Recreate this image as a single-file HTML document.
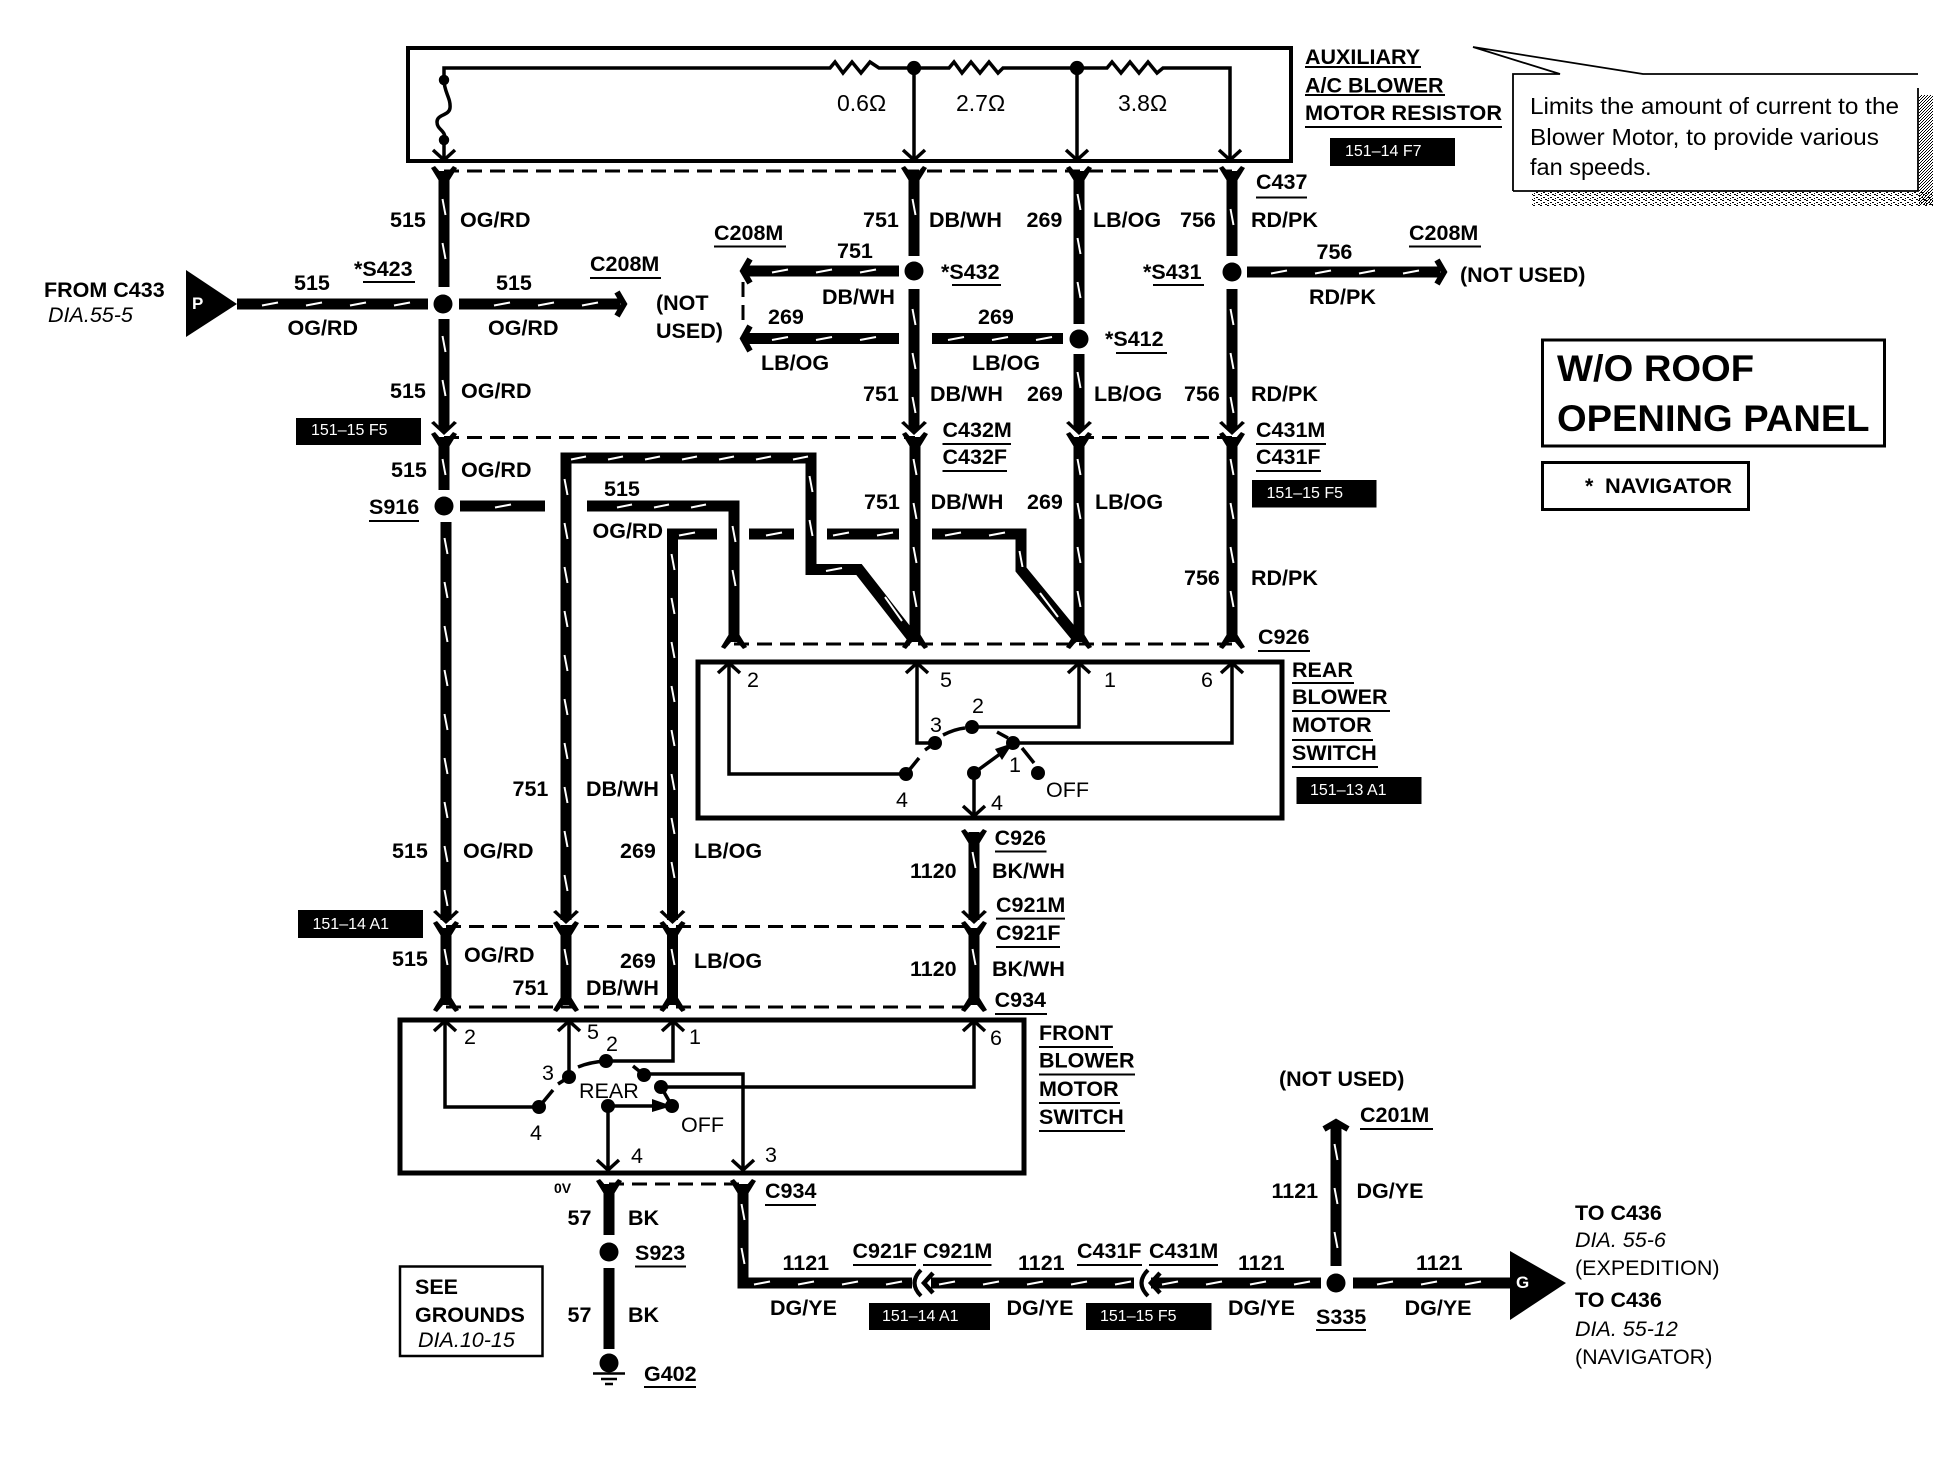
<!DOCTYPE html>
<html><head><meta charset="utf-8"><title>Auxiliary blower wiring diagram</title>
<style>
html,body{margin:0;padding:0;background:#fff}
svg{display:block}
text{font-family:"Liberation Sans",sans-serif;font-size:21.5px;font-weight:bold;fill:#000}
.r{font-weight:normal}
.i{font-weight:normal;font-style:italic}
.w{fill:#fff;font-weight:normal;font-size:16px}
.n{font-weight:normal;font-size:23px}
.t{stroke:#000;fill:none;stroke-width:3.5}
.wire{stroke:#000;fill:none;stroke-width:11;stroke-linejoin:miter}
.dash{stroke:#000;fill:none;stroke-width:3;stroke-dasharray:15 8}
.ar{stroke:#000;fill:none;stroke-width:3.5}
.cap{stroke:#000;fill:none;stroke-width:6}
</style></head><body>
<svg xmlns="http://www.w3.org/2000/svg" width="1958" height="1472" viewBox="0 0 1958 1472">
<defs>
<pattern id="v" patternUnits="userSpaceOnUse" width="12" height="44"><path d="M4.5 14L7.5 30" stroke="#fff" stroke-width="2"/></pattern>
<pattern id="h" patternUnits="userSpaceOnUse" width="44" height="12"><path d="M14 7.5L30 4.5" stroke="#fff" stroke-width="2"/></pattern>
<pattern id="h2" patternUnits="userSpaceOnUse" width="37" height="12"><path d="M11 7.5L26 4.5" stroke="#fff" stroke-width="2"/></pattern>
<pattern id="sh" patternUnits="userSpaceOnUse" width="3" height="3"><rect width="1" height="1"/><rect x="2" y="1" width="1" height="1"/><rect x="1" y="2" width="1" height="1"/></pattern>
<pattern id="sb" patternUnits="userSpaceOnUse" width="7" height="5"><rect width="2" height="1"/><rect x="3" y="2" width="2" height="1"/><rect x="5" y="4" width="2" height="1"/><rect x="1" y="3" width="1" height="1"/></pattern>
<path id="cup" d="M-13-5L-9-7L-3 0H3L9-7L13-5L5 8H-5Z"/>
<path id="fl" d="M-13 5L-9 7L-3 0H3L9 7L13 5L5-8H-5Z"/>
<path id="dh" d="M-13-9L-10-11L-5-6H5L10-11L13-9L0 3Z"/>
<path id="ua" d="M-11 10L0 0L11 10" class="ar"/>
<path id="da" d="M-11-10L0 0L11-10" class="ar"/>
<circle id="nd" r="9.5"/>
<circle id="sn" r="7"/>
</defs>

<!-- resistor box -->
<rect x="408" y="48" width="883" height="113" fill="none" stroke="#000" stroke-width="4"/>
<path class="t" d="M444 80V68H830l5-6 8 11 9-11 9 11 9-11 9 6H949l5-6 8 11 9-11 9 11 9-11 9 11 5-5 6 0H1107l5-6 9 11 9-11 9 11 9-11 9 11 6-5H1230V160"/>
<path class="t" d="M444 80C444 92 451 98 450 108C449 116 437 114 437 122C437 130 446 130 445 140M914 68V160M1077 68V160M444 140V160"/>
<use href="#nd" x="0" y="0" transform="translate(444 80) scale(.55)"/>
<use href="#nd" x="0" y="0" transform="translate(444 140) scale(.55)"/>
<use href="#nd" x="0" y="0" transform="translate(914 68) scale(.75)"/>
<use href="#nd" x="0" y="0" transform="translate(1077 68) scale(.75)"/>
<use href="#da" x="444" y="160"/><use href="#da" x="914" y="160"/><use href="#da" x="1077" y="160"/><use href="#da" x="1230" y="160"/>
<text x="837" y="111" class="n">0.6Ω</text><text x="956" y="111" class="n">2.7Ω</text><text x="1118" y="111" class="n">3.8Ω</text>

<!-- dashed connector lines -->
<path class="dash" d="M444 171H1232M444 437.5H915M1079 437.5H1232M734 644H1232M446 926.5H974M446 1007H974M609 1184H743M743 282V328"/>

<!-- wires -->
<path class="wire" d="M444 171V287M444 319V428M444 437V490M446 522V920M446 928V1005"/>
<path class="wire" d="M914 171V256M914 289V428M915 437V640M1079 171V324M1079 354V428M1079 437V640M1232 171V256M1232 289V428M1232 437V640"/>
<path class="wire" d="M237 304H428M459 304H620M743 271H899M743 338.5H899M932 338.5H1063M1247 272H1440"/>
<path class="wire" d="M566 920V458H811V569.5H859L914 640"/>
<path class="wire" d="M566 928V1005M672.5 928V1005M974 832V920M974 928V1005"/>
<path class="wire" d="M460 506H545M587 506H734V640"/>
<path class="wire" d="M717 534H672.5V920M749 534H794M827 534H899M932 534H1021V569.5L1079 640"/>
<path class="wire" d="M743 1184V1283H912M931 1283H1134M1151 1283H1321M1353 1283H1515M1336 1125V1266"/>
<path class="wire" d="M609 1184V1235M609 1268V1349"/>

<!-- white wire marks -->
<g>
<rect transform="translate(438 185)" width="12" height="88" fill="url(#v)"/>
<rect transform="translate(438 322)" width="12" height="88" fill="url(#v)"/>
<rect transform="translate(438 445)" width="12" height="44" fill="url(#v)"/>
<rect transform="translate(440 524)" width="12" height="396" fill="url(#v)"/>
<rect transform="translate(440 935)" width="12" height="44" fill="url(#v)"/>
<rect transform="translate(560 465)" width="12" height="440" fill="url(#v)"/>
<rect transform="translate(560 935)" width="12" height="44" fill="url(#v)"/>
<rect transform="translate(667 540)" width="12" height="352" fill="url(#v)"/>
<rect transform="translate(667 935)" width="12" height="44" fill="url(#v)"/>
<rect transform="translate(908 185)" width="12" height="44" fill="url(#v)"/>
<rect transform="translate(908 295)" width="12" height="132" fill="url(#v)"/>
<rect transform="translate(909 445)" width="12" height="176" fill="url(#v)"/>
<rect transform="translate(1073 180)" width="12" height="132" fill="url(#v)"/>
<rect transform="translate(1073 358)" width="12" height="44" fill="url(#v)"/>
<rect transform="translate(1073 445)" width="12" height="176" fill="url(#v)"/>
<rect transform="translate(1226 195)" width="12" height="44" fill="url(#v)"/>
<rect transform="translate(1226 295)" width="12" height="132" fill="url(#v)"/>
<rect transform="translate(1226 445)" width="12" height="176" fill="url(#v)"/>
<rect transform="translate(728 512)" width="12" height="88" fill="url(#v)"/>
<rect transform="translate(805 462)" width="12" height="88" fill="url(#v)"/>
<rect transform="translate(1015 537)" width="12" height="30" fill="url(#v)"/>
<rect transform="translate(968 838)" width="12" height="44" fill="url(#v)"/>
<rect transform="translate(968 935)" width="12" height="44" fill="url(#v)"/>
<rect transform="translate(737 1190)" width="12" height="88" fill="url(#v)"/>
<rect transform="translate(1330 1130)" width="12" height="132" fill="url(#v)"/>

<rect transform="translate(248 298)" width="176" height="12" fill="url(#h)"/>
<rect transform="translate(480 298)" width="132" height="12" fill="url(#h)"/>
<rect transform="translate(758 265)" width="132" height="12" fill="url(#h)"/>
<rect transform="translate(758 332.5)" width="132" height="12" fill="url(#h)"/>
<rect transform="translate(934 332.5)" width="128" height="12" fill="url(#h)"/>
<rect transform="translate(1257 266)" width="176" height="12" fill="url(#h)"/>
<rect transform="translate(481 500)" width="44" height="12" fill="url(#h)"/>
<rect transform="translate(606 500)" width="111" height="12" fill="url(#h2)"/>
<rect transform="translate(665 528)" width="44" height="12" fill="url(#h)"/>
<rect transform="translate(752 528)" width="40" height="12" fill="url(#h)"/>
<rect transform="translate(819 528)" width="80" height="12" fill="url(#h)"/>
<rect transform="translate(931 528)" width="88" height="12" fill="url(#h)"/>
<rect transform="translate(560 452)" width="259" height="12" fill="url(#h2)"/>
<rect transform="translate(812 563.5)" width="44" height="12" fill="url(#h)"/>
<rect transform="translate(740 1277)" width="176" height="12" fill="url(#h)"/>
<rect transform="translate(925 1277)" width="209" height="12" fill="url(#h)"/>
<rect transform="translate(1148 1277)" width="173" height="12" fill="url(#h)"/>
<rect transform="translate(1363 1277)" width="132" height="12" fill="url(#h)"/>
<path d="M885 597L902 621M1040 593L1058 617" stroke="#fff" stroke-width="2" fill="none"/>
</g>

<!-- junctions -->
<use href="#nd" x="443" y="304"/><use href="#nd" x="444" y="506"/><use href="#nd" x="914" y="271"/>
<use href="#nd" x="1079" y="339"/><use href="#nd" x="1232" y="272"/><use href="#nd" x="609" y="1252"/><use href="#nd" x="1336" y="1283"/>

<!-- connector glyphs -->
<use href="#cup" x="444" y="173"/><use href="#cup" x="914" y="173"/><use href="#cup" x="1079" y="173"/><use href="#cup" x="1232" y="173"/>
<use href="#dh" x="444" y="432"/><use href="#dh" x="914" y="432"/><use href="#dh" x="1079" y="432"/><use href="#dh" x="1232" y="432"/>
<use href="#cup" x="444" y="439"/><use href="#cup" x="915" y="439"/><use href="#cup" x="1079" y="439"/><use href="#cup" x="1232" y="439"/>
<use href="#fl" x="734" y="642"/><use href="#fl" x="915" y="642"/><use href="#fl" x="1079" y="642"/><use href="#fl" x="1232" y="642"/>
<use href="#dh" x="446" y="921"/><use href="#dh" x="566" y="921"/><use href="#dh" x="672.5" y="921"/><use href="#dh" x="974" y="921"/>
<use href="#cup" x="446" y="928"/><use href="#cup" x="566" y="928"/><use href="#cup" x="672.5" y="928"/><use href="#cup" x="974" y="928"/>
<use href="#fl" x="446" y="1005"/><use href="#fl" x="566" y="1005"/><use href="#fl" x="672.5" y="1005"/><use href="#fl" x="974" y="1005"/>
<use href="#cup" x="974" y="836"/><use href="#cup" x="609" y="1186"/><use href="#cup" x="743" y="1186"/>
<path class="cap" d="M617 292L624 304L617 316M750 259L743 271L750 283M750 326L743 338.5L750 351M1437 260L1444 272L1437 284M1324 1129L1336 1122L1348 1129"/>
<path d="M921 1270Q908 1283 921 1296M1148 1270Q1135 1283 1148 1296" fill="none" stroke="#000" stroke-width="4"/>
<path d="M933 1273L924 1283L933 1293M1160 1273L1151 1283L1160 1293" fill="none" stroke="#000" stroke-width="4.5"/>

<!-- plugs -->
<path d="M186 270L237 304L186 337Z"/><text x="192" y="309" class="w" style="font-size:17px;font-weight:bold">P</text>
<path d="M1510 1251L1566 1283L1510 1320Z"/><text x="1516" y="1288" class="w" style="font-size:17px;font-weight:bold">G</text>

<!-- rear switch -->
<rect x="698" y="662" width="584" height="156" fill="none" stroke="#000" stroke-width="5"/>
<path class="t" d="M729 663V774H906M917 663V743H935M972 727H1079V663M1013 743H1232V663M974 773V816"/>
<path class="t" d="M906 774L919 758M925 750L935 743M943 735Q955 729 965 728M997 732L1008 738M1022 748L1034 763M974 773L1000 754"/>
<path d="M1013 743L995 749L1002 760Z"/>
<use href="#ua" x="729" y="663"/><use href="#ua" x="917" y="663"/><use href="#ua" x="1079" y="663"/><use href="#ua" x="1232" y="663"/><use href="#da" x="974" y="816"/>
<use href="#sn" x="906" y="774"/><use href="#sn" x="935" y="743"/><use href="#sn" x="972" y="727"/><use href="#sn" x="1013" y="743"/><use href="#sn" x="974" y="773"/><use href="#sn" x="1038" y="773"/>
<text x="747" y="687" class="r">2</text><text x="940" y="687" class="r">5</text><text x="930" y="732" class="r">3</text><text x="972" y="713" class="r">2</text><text x="1009" y="772" class="r">1</text><text x="896" y="807" class="r">4</text><text x="991" y="810" class="r">4</text><text x="1104" y="687" class="r">1</text><text x="1201" y="687" class="r">6</text><text x="1046" y="797" class="r">OFF</text>

<!-- front switch -->
<rect x="400" y="1020" width="624" height="153" fill="none" stroke="#000" stroke-width="5"/>
<path class="t" d="M445 1021V1107H539M569 1021V1077M673 1021V1061H606M644 1074H743V1170M661 1087H974V1021M608 1106V1170"/>
<path class="t" d="M539 1107L553 1090M558 1084L569 1077M578 1067Q590 1062 606 1061M633 1066L644 1075M661 1087L672 1106M608 1106H655"/>
<path d="M672 1106L652 1099V1112Z"/>
<use href="#ua" x="445" y="1021"/><use href="#ua" x="569" y="1021"/><use href="#ua" x="673" y="1021"/><use href="#ua" x="974" y="1021"/><use href="#da" x="608" y="1170"/><use href="#da" x="743" y="1170"/>
<use href="#sn" x="539" y="1107"/><use href="#sn" x="569" y="1077"/><use href="#sn" x="606" y="1061"/><use href="#sn" x="644" y="1075"/><use href="#sn" x="661" y="1087"/><use href="#sn" x="608" y="1106"/><use href="#sn" x="672" y="1106"/>
<text x="464" y="1044" class="r">2</text><text x="587" y="1039" class="r">5</text><text x="689" y="1044" class="r">1</text><text x="606" y="1051" class="r">2</text><text x="542" y="1080" class="r">3</text><text x="530" y="1140" class="r">4</text><text x="631" y="1163" class="r">4</text><text x="765" y="1162" class="r">3</text><text x="990" y="1045" class="r">6</text>
<text x="579" y="1098" class="r">REAR</text><text x="681" y="1132" class="r">OFF</text>
<text x="554" y="1193" style="font-size:14px">0V</text>

<!-- ground -->
<use href="#nd" x="609" y="1363"/><path d="M593 1373.5H625M601 1379H617M605 1384H613" stroke="#000" stroke-width="2.5" fill="none"/>

<!-- black reference tags -->
<path d="M296 418H421V445H296ZM1330 138H1455V166H1330ZM1252 480H1376.5V507.5H1252ZM1296.5 777H1421.5V804H1296.5ZM298 910H423V938H298ZM869 1303H990V1330H869ZM1086 1303H1211.5V1330H1086Z"/>
<text x="311" y="435" class="w">151–15 F5</text><text x="1345" y="156" class="w">151–14 F7</text><text x="1266.5" y="498" class="w">151–15 F5</text><text x="1310" y="795" class="w">151–13 A1</text><text x="312.5" y="929" class="w">151–14 A1</text><text x="882" y="1321" class="w">151–14 A1</text><text x="1100" y="1321" class="w">151–15 F5</text>

<!-- underlines -->
<path stroke="#000" stroke-width="2" fill="none" d="M1305 67H1421M1305 95H1445M1305 127H1502M1256 197.5H1307M714 246.5H786M1409 246.5H1481M952 285H1001M1153 285H1204M363 282H415M590 278H661M1116 353H1167M942.5 444H1011M942.5 471H1007M1256 444H1326M1256 471H1321M369 521H419M1258 651H1310M1292 683H1354M1292 711H1390M1292 740H1373M1292 767H1378M995 851.5H1046.5M996 918.6H1065M996 947H1060M995 1014H1047M1039 1047H1113M1039 1074.5H1135M1039 1103H1120M1039 1131H1125M1360 1129H1433M853 1265H916M923 1265H991.5M1077 1265H1142M1149 1265H1218M1316 1330H1366M765 1205H816M635 1266.5H686M644 1387H696"/>

<!-- labels -->
<text x="390" y="227">515</text><text x="460" y="227">OG/RD</text><text x="863" y="227">751</text><text x="929" y="227">DB/WH</text><text x="1026.5" y="227">269</text><text x="1093" y="227">LB/OG</text><text x="1180" y="227">756</text><text x="1251" y="227">RD/PK</text>
<text x="1256" y="189">C437</text><text x="714" y="240">C208M</text><text x="837" y="258">751</text><text x="941" y="279">*S432</text><text x="1143" y="279">*S431</text><text x="1409" y="240">C208M</text><text x="1316.5" y="259">756</text><text x="1309" y="304">RD/PK</text><text x="1460" y="282">(NOT USED)</text>
<text x="44" y="297">FROM C433</text><text x="48" y="322" class="i">DIA.55-5</text><text x="354" y="276">*S423</text><text x="294" y="290">515</text><text x="287.5" y="335">OG/RD</text><text x="496" y="290">515</text><text x="488" y="335">OG/RD</text>
<text x="590" y="271">C208M</text><text x="656" y="310">(NOT</text><text x="656" y="338">USED)</text><text x="822" y="304">DB/WH</text><text x="768" y="324">269</text><text x="761" y="370">LB/OG</text><text x="978" y="324">269</text><text x="972" y="370">LB/OG</text><text x="1105" y="346">*S412</text>
<text x="390" y="398">515</text><text x="461" y="398">OG/RD</text><text x="863" y="401">751</text><text x="930" y="401">DB/WH</text><text x="1027" y="401">269</text><text x="1094" y="401">LB/OG</text><text x="1184" y="401">756</text><text x="1251" y="401">RD/PK</text>
<text x="942.5" y="437">C432M</text><text x="942.5" y="464">C432F</text><text x="1256" y="437">C431M</text><text x="1256" y="464">C431F</text>
<text x="391" y="477">515</text><text x="461" y="477">OG/RD</text><text x="369" y="514">S916</text><text x="604" y="496">515</text><text x="592.5" y="538">OG/RD</text><text x="864" y="509">751</text><text x="930.6" y="509">DB/WH</text><text x="1027" y="509">269</text><text x="1095" y="509">LB/OG</text><text x="1184" y="585">756</text><text x="1251" y="585">RD/PK</text>
<text x="1258" y="644">C926</text><text x="1292" y="677">REAR</text><text x="1292" y="704">BLOWER</text><text x="1292" y="732">MOTOR</text><text x="1292" y="760">SWITCH</text>
<text x="512.5" y="796">751</text><text x="586" y="796">DB/WH</text><text x="392" y="858">515</text><text x="463" y="858">OG/RD</text><text x="620" y="858">269</text><text x="694" y="858">LB/OG</text><text x="910" y="878">1120</text><text x="994.6" y="845">C926</text><text x="992" y="878">BK/WH</text><text x="996" y="912">C921M</text><text x="996" y="940">C921F</text><text x="992" y="976">BK/WH</text><text x="910" y="976">1120</text><text x="994.6" y="1007">C934</text>
<text x="392" y="966">515</text><text x="464" y="962">OG/RD</text><text x="620" y="968">269</text><text x="694" y="968">LB/OG</text><text x="512.5" y="995">751</text><text x="586" y="995">DB/WH</text>
<text x="1039" y="1040">FRONT</text><text x="1039" y="1067.5">BLOWER</text><text x="1039" y="1096">MOTOR</text><text x="1039" y="1124">SWITCH</text>
<text x="1279" y="1086">(NOT USED)</text><text x="1360" y="1122">C201M</text><text x="1271.5" y="1198">1121</text><text x="1356.5" y="1198">DG/YE</text>
<text x="782.5" y="1270">1121</text><text x="852.5" y="1258">C921F</text><text x="923" y="1258">C921M</text><text x="770" y="1315">DG/YE</text><text x="1018" y="1270">1121</text><text x="1006.5" y="1315">DG/YE</text><text x="1077" y="1258">C431F</text><text x="1149" y="1258">C431M</text><text x="1238" y="1270">1121</text><text x="1228" y="1315">DG/YE</text><text x="1316" y="1324">S335</text><text x="1416" y="1270">1121</text><text x="1404.6" y="1315">DG/YE</text>
<text x="1575" y="1220">TO C436</text><text x="1575" y="1247" class="i">DIA. 55-6</text><text x="1575" y="1275" class="r">(EXPEDITION)</text><text x="1575" y="1307">TO C436</text><text x="1575" y="1336" class="i">DIA. 55-12</text><text x="1575" y="1364" class="r">(NAVIGATOR)</text>
<text x="765" y="1198">C934</text><text x="567.5" y="1225">57</text><text x="628" y="1225">BK</text><text x="635" y="1260">S923</text><text x="567.5" y="1322">57</text><text x="628" y="1322">BK</text><text x="644" y="1381">G402</text>

<rect x="400" y="1266.5" width="142.5" height="89.5" fill="none" stroke="#000" stroke-width="2.5"/>
<text x="415" y="1294">SEE</text><text x="415" y="1322">GROUNDS</text><text x="418" y="1347" class="i">DIA.10-15</text>

<text x="1305" y="64">AUXILIARY</text><text x="1305" y="92.5">A/C BLOWER</text><text x="1305" y="120" textLength="197" lengthAdjust="spacingAndGlyphs">MOTOR RESISTOR</text>

<!-- note boxes -->
<rect x="1542.5" y="340" width="342" height="106" fill="none" stroke="#000" stroke-width="3"/>
<text x="1557" y="381" style="font-size:37px" textLength="197" lengthAdjust="spacingAndGlyphs">W/O ROOF</text>
<text x="1557" y="431" style="font-size:37px" textLength="312.5" lengthAdjust="spacingAndGlyphs">OPENING PANEL</text>
<rect x="1542.5" y="462.5" width="206" height="47" fill="none" stroke="#000" stroke-width="3"/>
<text x="1585" y="493">*</text><text x="1605" y="493" textLength="127" lengthAdjust="spacingAndGlyphs">NAVIGATOR</text>

<!-- callout -->
<rect x="1919" y="95" width="14" height="110" fill="url(#sh)"/>
<rect x="1532" y="192" width="401" height="14" fill="url(#sb)"/>
<path d="M1513 191V74H1560L1473 47L1643 74H1918" fill="#fff" stroke="none"/>
<path d="M1513 191H1918V88M1513 191V74H1560L1473 47L1643 74H1918" fill="none" stroke="#000" stroke-width="1.8"/>
<text x="1530" y="114" class="n" style="font-size:23.5px" textLength="369" lengthAdjust="spacingAndGlyphs">Limits the amount of current to the</text>
<text x="1530" y="145" class="n" style="font-size:23.5px" textLength="349" lengthAdjust="spacingAndGlyphs">Blower Motor, to provide various</text>
<text x="1530" y="175" class="n" style="font-size:23.5px">fan speeds.</text>
</svg>
</body></html>
